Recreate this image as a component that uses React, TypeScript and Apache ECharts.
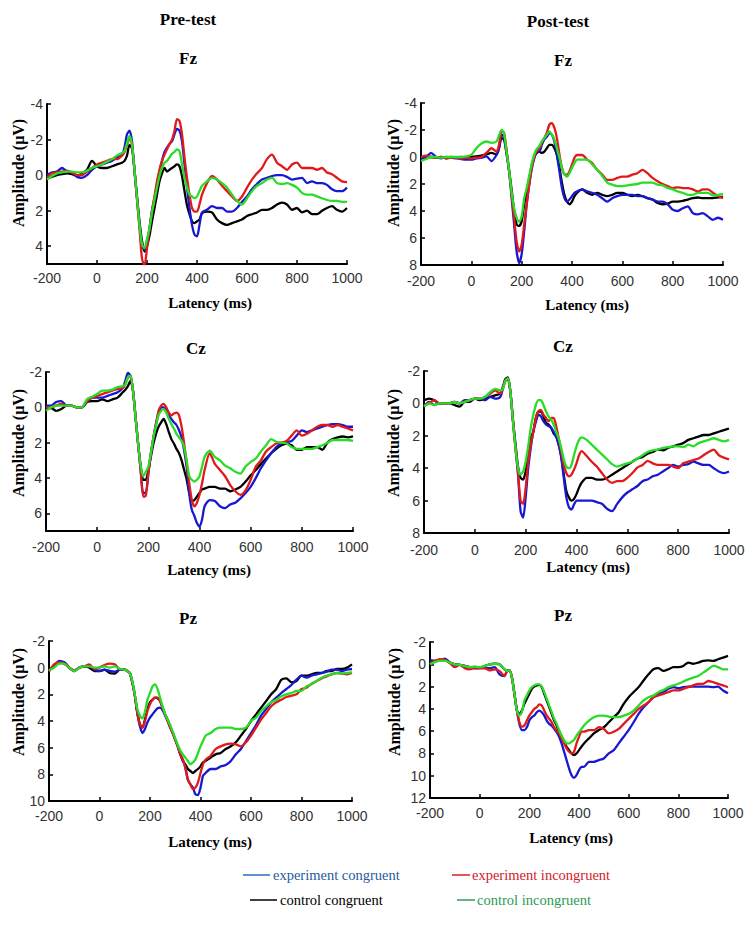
import React, { useEffect, useRef } from "react";
import * as echarts from "echarts";

// Latency (ms) sample points shared by all waveforms
const LATENCY = [
  -200, -180, -160, -140, -120, -100, -80, -60, -40, -20, 0, 20, 40, 60, 80, 100,
  110, 120, 130, 140, 150, 160, 170, 180, 190, 200, 210, 220, 230, 240, 250, 260, 270, 280, 290, 300,
  310, 320, 330, 340, 350, 360, 370, 380, 390, 400, 410, 420,
  440, 460, 480, 500, 520, 540, 560, 580, 600, 620, 640, 660, 680, 700, 720, 740, 760, 780, 800, 820,
  840, 860, 880, 900, 920, 940, 960, 980, 1000,
];

const X_TICKS = [-200, 0, 200, 400, 600, 800, 1000];
const FZ_PRE_TICKS = [-4, -2, 0, 2, 4];
const FZ_POST_TICKS = [-4, -2, 0, 2, 4, 6, 8];
const CZ_PRE_TICKS = [-2, 0, 2, 4, 6];
const CZ_POST_TICKS = [-2, 0, 2, 4, 6, 8];
const PZ_PRE_TICKS = [-2, 0, 2, 4, 6, 8, 10];
const PZ_POST_TICKS = [-2, 0, 2, 4, 6, 8, 10, 12];

const LEGEND_NAMES = ["experiment congruent", "experiment incongruent", "control congruent", "control incongruent"];

// ---------- Pre-test Fz ----------
const preFzEC = [0.0, -0.15, -0.2, -0.4, -0.2, -0.15, 0.1, 0.15, 0.0, -0.3, -0.5, -0.6, -0.7, -0.8, -1.0, -1.15,
  -1.55, -2.3, -2.5, -1.9, -0.2, 1.3, 2.8, 3.9, 4.2, 3.75, 3.0, 2.0, 1.3, 0.5, -0.2, -0.8, -1.3, -1.55, -1.75, -1.9,
  -2.3, -2.6, -2.5, -1.9, -0.6, 0.7, 1.85, 2.8, 3.35, 3.45, 2.8, 2.1,
  1.95, 1.75, 1.85, 1.85, 2.05, 2.05, 1.85, 1.5, 1.2, 0.8, 0.5, 0.25, 0.15, 0.05, 0.0, 0.0, 0.1, 0.25, 0.2, 0.15,
  0.45, 0.35, 0.45, 0.45, 0.55, 0.8, 0.9, 0.9, 0.7];
const preFzEI = [0.15, -0.1, -0.15, -0.2, -0.25, -0.15, 0.0, 0.0, -0.2, -0.4, -0.6, -0.7, -0.8, -0.9, -0.9, -1.1,
  -1.3, -1.7, -2.1, -1.7, -0.3, 1.4, 3.0, 4.7, 5.1, 4.1, 3.0, 2.0, 1.2, 0.35, -0.3, -0.8, -1.15, -1.45, -1.75, -2.0,
  -2.5, -3.15, -3.05, -2.3, -1.0, 0.15, 1.1, 1.85, 2.05, 2.05, 1.65, 1.1,
  0.45, 0.05, 0.25, 0.6, 0.9, 1.2, 1.45, 1.2, 0.7, 0.25, -0.1, -0.4, -0.9, -1.15, -0.7, -0.5, -0.3, -0.6, -0.7, -0.4,
  -0.4, -0.4, -0.3, -0.4, -0.15, -0.05, 0.15, 0.35, 0.4];
const preFzCC = [0.15, 0.1, 0.0, -0.05, -0.1, -0.05, 0.05, -0.1, -0.3, -0.8, -0.5, -0.4, -0.4, -0.5, -0.6, -0.7,
  -0.8, -1.1, -1.7, -1.5, -0.3, 1.2, 2.6, 3.7, 4.3, 4.0, 3.4, 2.6, 1.85, 1.1, 0.35, -0.1, -0.4, -0.2, -0.3, -0.4,
  -0.5, -0.6, -0.5, 0.05, 0.9, 1.7, 2.2, 2.6, 2.7, 2.6, 2.5, 2.15,
  2.05, 2.1, 2.5, 2.7, 2.8, 2.7, 2.6, 2.5, 2.3, 2.2, 2.1, 1.95, 1.95, 1.85, 1.65, 1.55, 1.65, 1.95, 1.85, 2.1,
  2.0, 2.2, 2.2, 2.0, 1.85, 1.75, 1.95, 2.05, 1.85];
const preFzCI = [0.25, 0.05, -0.1, -0.15, -0.2, -0.2, -0.15, -0.15, -0.25, -0.4, -0.5, -0.6, -0.75, -0.9, -1.1, -1.25,
  -1.35, -1.8, -2.2, -1.7, -0.3, 1.3, 2.8, 3.9, 4.1, 3.6, 3.0, 2.1, 1.4, 0.7, 0.05, -0.4, -0.7, -0.8, -1.0, -1.2,
  -1.3, -1.45, -1.35, -0.6, 0.15, 0.7, 1.1, 1.2, 1.3, 1.2, 0.9, 0.6,
  0.35, 0.15, 0.25, 0.45, 0.7, 1.1, 1.45, 1.65, 1.3, 0.9, 0.6, 0.45, 0.25, 0.15, 0.45, 0.5, 0.45, 0.55, 0.7, 1.0,
  1.1, 1.1, 1.2, 1.3, 1.4, 1.45, 1.45, 1.5, 1.5];

// ---------- Post-test Fz ----------
const postFzEC = [0.1, 0.0, -0.3, 0.0, 0.1, 0.0, 0.05, 0.1, 0.15, 0.2, 0.2, 0.1, 0.05, -0.05, 0.3, -0.15,
  -0.65, -1.65, -1.5, -0.4, 1.05, 3.0, 5.0, 7.0, 7.85, 7.2, 5.5, 3.5, 2.05, 0.9, 0.1, -0.4, -0.4, -0.9, -1.3, -1.5,
  -1.75, -1.65, -1.15, -0.15, 1.05, 2.3, 3.05, 3.3, 3.15, 2.9, 2.65, 2.55,
  2.4, 2.55, 2.65, 2.8, 3.05, 3.3, 3.05, 2.9, 2.8, 2.8, 2.8, 2.9, 2.9, 3.05, 3.15, 3.3, 3.3, 3.5, 3.9, 4.0,
  3.8, 3.65, 4.15, 4.25, 4.15, 4.4, 4.65, 4.5, 4.65];
const postFzEI = [0.0, -0.1, 0.0, 0.05, 0.0, 0.1, 0.05, 0.05, 0.1, 0.05, 0.1, 0.05, 0.0, -0.3, -0.65, -0.4,
  -0.9, -1.9, -1.8, -0.5, 1.0, 2.8, 4.5, 6.25, 7.0, 6.5, 5.0, 3.5, 2.05, 0.8, 0.0, -0.45, -0.65, -1.05, -1.4, -1.8,
  -2.4, -2.5, -2.15, -1.4, -0.2, 0.8, 1.3, 1.3, 1.05, 0.55, 0.05, -0.15,
  -0.15, 0.2, 0.45, 0.95, 1.3, 1.7, 1.7, 1.55, 1.45, 1.45, 1.3, 1.2, 0.95, 1.2, 1.55, 1.8, 2.0, 2.15, 2.3, 2.25,
  2.3, 2.3, 2.4, 2.55, 2.4, 2.4, 2.65, 2.9, 3.05];
const postFzCC = [0.1, 0.05, 0.0, 0.05, 0.0, 0.1, 0.0, 0.05, 0.0, 0.05, 0.0, -0.05, -0.1, -0.2, -0.3, -0.2,
  -0.65, -1.4, -1.3, -0.2, 1.0, 2.4, 3.95, 5.0, 5.1, 4.75, 3.5, 2.5, 1.6, 0.6, 0.0, -0.3, -0.4, -0.3, -0.4, -0.65,
  -0.9, -0.9, -0.65, -0.15, 0.8, 1.9, 2.8, 3.3, 3.5, 3.3, 2.9, 2.65,
  2.4, 2.65, 2.8, 2.65, 2.8, 2.9, 2.8, 2.65, 2.65, 2.8, 2.9, 2.8, 2.9, 3.05, 3.15, 3.4, 3.5, 3.45, 3.3, 3.3,
  3.25, 3.15, 3.05, 3.0, 3.05, 3.05, 3.05, 3.0, 2.95];
const postFzCI = [0.3, 0.15, 0.0, 0.0, 0.05, 0.0, 0.0, 0.0, 0.0, -0.05, -0.15, -0.65, -1.0, -1.15, -1.05, -1.15,
  -1.6, -2.0, -1.75, -0.4, 1.0, 2.6, 3.8, 4.5, 4.8, 4.4, 3.05, 2.3, 1.4, 0.5, -0.2, -0.6, -0.8, -1.15, -1.4, -1.65,
  -1.9, -1.65, -1.3, -0.65, 0.05, 0.8, 1.3, 1.45, 1.2, 0.8, 0.45, 0.2,
  0.2, 0.2, 0.55, 0.95, 1.4, 1.9, 2.05, 2.15, 2.15, 2.1, 2.05, 2.0, 1.9, 1.9, 1.9, 2.05, 2.1, 2.3, 2.4, 2.55,
  2.65, 2.8, 2.8, 2.65, 2.65, 2.65, 2.85, 2.8, 2.75];

// ---------- Pre-test Cz ----------
const preCzEC = [-0.1, -0.1, -0.3, -0.35, -0.1, -0.1, 0.0, 0.0, -0.3, -0.55, -0.55, -0.55, -0.65, -0.75, -0.85, -1.1,
  -1.5, -1.95, -1.8, -0.95, 0.55, 2.05, 3.55, 4.85, 4.85, 3.75, 2.6, 1.7, 0.9, 0.35, 0.0, 0.0, 0.2, 0.45, 0.65, 0.85,
  1.0, 1.3, 1.7, 2.45, 3.4, 4.9, 5.8, 6.15, 6.55, 6.75, 6.35, 5.6,
  5.25, 5.3, 5.6, 5.7, 5.5, 5.4, 5.15, 4.85, 4.5, 4.0, 3.45, 3.0, 2.6, 2.25, 2.05, 1.95, 1.9, 1.6, 1.3, 1.4,
  1.3, 1.2, 1.1, 1.0, 0.95, 0.95, 1.0, 1.1, 1.1];
const preCzEI = [0.0, 0.0, -0.1, -0.2, -0.1, -0.1, 0.0, 0.0, -0.35, -0.55, -0.65, -0.75, -0.85, -0.95, -1.05, -1.1,
  -1.3, -1.7, -1.8, -0.95, 0.55, 2.05, 3.55, 5.05, 5.0, 3.75, 2.6, 1.7, 0.95, 0.2, -0.1, -0.2, 0.0, 0.3, 0.45, 0.35,
  0.3, 0.45, 1.1, 2.05, 3.2, 4.3, 5.25, 5.6, 5.4, 4.95, 4.3, 3.55,
  2.6, 3.2, 3.55, 3.9, 4.4, 4.75, 4.95, 4.7, 4.1, 3.35, 3.0, 2.5, 2.25, 2.05, 2.0, 1.9, 1.6, 1.3, 1.6, 1.5,
  1.3, 1.1, 1.0, 1.0, 1.1, 1.0, 1.1, 1.2, 1.3];
const preCzCC = [0.1, 0.05, 0.2, 0.1, -0.1, -0.1, 0.0, 0.0, -0.3, -0.35, -0.35, -0.45, -0.35, -0.45, -0.55, -0.85,
  -1.0, -1.2, -1.5, -0.95, 0.55, 2.05, 3.3, 4.1, 4.1, 3.55, 2.8, 2.05, 1.5, 1.1, 0.85, 0.65, 0.95, 1.4, 1.8, 2.05,
  2.35, 2.6, 3.0, 3.55, 4.1, 4.85, 5.3, 5.25, 5.05, 4.85, 4.65, 4.6,
  4.5, 4.5, 4.6, 4.6, 4.75, 4.65, 4.5, 4.2, 3.85, 3.55, 3.2, 2.9, 2.6, 2.35, 2.15, 2.05, 2.15, 2.4, 2.4, 2.25,
  2.25, 2.25, 2.4, 2.0, 1.8, 1.7, 1.65, 1.7, 1.65];
const preCzCI = [0.2, 0.0, -0.1, -0.1, -0.1, -0.1, 0.0, 0.0, -0.45, -0.6, -0.75, -0.95, -0.95, -1.0, -1.15, -1.2,
  -1.3, -1.7, -1.8, -0.95, 0.55, 2.05, 3.3, 3.9, 3.65, 3.35, 2.6, 1.7, 1.05, 0.45, 0.2, 0.1, 0.3, 0.65, 0.95, 1.2,
  1.5, 1.7, 1.9, 2.25, 3.0, 3.9, 4.1, 4.2, 4.1, 3.9, 3.35, 2.8,
  2.45, 2.8, 3.0, 3.3, 3.45, 3.65, 3.75, 3.35, 3.1, 2.9, 2.5, 2.15, 1.8, 1.95, 2.0, 2.05, 2.25, 2.35, 2.35, 2.35,
  2.35, 2.25, 2.15, 2.0, 1.85, 1.85, 1.85, 1.85, 1.9];

// ---------- Post-test Cz ----------
const postCzEC = [0.2, -0.1, 0.1, 0.0, 0.0, 0.0, -0.1, 0.0, -0.2, -0.2, -0.3, -0.3, -0.2, -0.4, -0.3, -0.4,
  -0.9, -1.4, -1.5, -0.7, 1.1, 2.75, 4.4, 6.65, 7.05, 5.8, 4.0, 2.75, 1.75, 1.15, 0.7, 0.8, 1.1, 1.3, 1.4, 1.5,
  1.75, 2.05, 2.55, 3.35, 4.6, 5.8, 6.4, 6.55, 6.25, 6.0, 6.0, 6.0,
  6.0, 6.0, 6.1, 6.2, 6.5, 6.65, 6.2, 5.8, 5.5, 5.3, 5.1, 4.8, 4.7, 4.5, 4.4, 4.2, 4.0, 3.8, 3.9, 3.8,
  3.75, 3.6, 3.7, 3.8, 3.8, 4.0, 4.2, 4.3, 4.2];
const postCzEI = [0.1, 0.0, -0.2, 0.0, 0.0, 0.0, -0.1, 0.0, -0.1, -0.2, -0.3, -0.3, -0.4, -0.6, -0.8, -0.6,
  -0.9, -1.4, -1.55, -0.7, 1.1, 2.75, 4.3, 6.0, 6.2, 5.2, 3.6, 2.55, 1.75, 0.9, 0.5, 0.4, 0.7, 0.9, 1.1, 0.9,
  0.9, 1.4, 2.15, 2.95, 3.8, 4.3, 4.5, 4.4, 4.1, 3.7, 3.2, 2.95,
  3.25, 3.6, 3.9, 4.3, 4.7, 4.9, 4.8, 4.8, 4.6, 4.3, 3.95, 3.8, 3.55, 3.7, 3.8, 3.8, 3.8, 3.9, 4.0, 3.7,
  3.6, 3.5, 3.4, 3.2, 3.0, 2.85, 3.2, 3.35, 3.45];
const postCzCC = [-0.2, -0.3, -0.2, 0.0, 0.0, 0.0, 0.1, 0.2, -0.1, -0.1, -0.3, -0.2, -0.3, -0.4, -0.5, -0.6,
  -1.0, -1.5, -1.6, -0.7, 1.0, 2.5, 3.9, 4.6, 4.7, 4.2, 3.2, 2.15, 1.75, 0.9, 0.5, 0.5, 0.8, 1.2, 1.3, 1.5,
  1.85, 2.05, 2.55, 3.25, 4.4, 5.4, 5.8, 6.0, 5.9, 5.6, 5.2, 4.9,
  4.6, 4.6, 4.7, 4.7, 4.6, 4.4, 4.2, 4.0, 3.8, 3.6, 3.4, 3.3, 3.1, 3.0, 2.85, 2.9, 2.75, 2.65, 2.55, 2.45,
  2.25, 2.15, 2.05, 1.95, 1.95, 1.85, 1.75, 1.65, 1.55];
const postCzCI = [0.2, 0.0, 0.1, 0.0, 0.0, 0.0, -0.1, 0.0, -0.1, -0.2, -0.3, -0.3, -0.4, -0.7, -0.9, -0.8,
  -0.9, -1.4, -1.55, -0.7, 1.1, 2.75, 4.0, 4.4, 4.2, 3.6, 2.65, 1.5, 0.7, 0.1, -0.2, -0.2, 0.1, 0.5, 0.8, 1.0,
  1.3, 1.75, 2.15, 2.75, 3.45, 3.9, 4.0, 3.8, 3.2, 2.65, 2.25, 2.1,
  2.25, 2.55, 2.85, 3.15, 3.45, 3.75, 3.9, 3.8, 3.7, 3.6, 3.4, 3.2, 3.0, 2.9, 2.85, 2.75, 2.7, 2.65, 2.65, 2.7,
  2.55, 2.65, 2.45, 2.35, 2.25, 2.15, 2.25, 2.35, 2.25];

// ---------- Pre-test Pz ----------
const prePzEC = [0.2, -0.1, -0.5, -0.4, 0.0, 0.25, 0.0, -0.1, -0.1, 0.15, 0.25, 0.15, 0.25, 0.3, 0.15, 0.15,
  0.25, 0.4, 1.1, 2.1, 3.4, 4.4, 4.9, 4.6, 4.1, 3.75, 3.5, 3.25, 3.05, 3.0, 3.2, 3.6, 4.0, 4.5, 4.9, 5.4,
  5.9, 6.5, 6.9, 7.5, 8.4, 8.75, 9.0, 9.5, 9.55, 9.0, 8.1, 7.9,
  7.6, 7.6, 7.4, 7.3, 7.0, 6.5, 6.1, 5.5, 4.9, 4.3, 3.6, 3.1, 2.6, 2.25, 1.9, 1.6, 1.3, 0.9, 0.6, 0.75,
  0.6, 0.5, 0.4, 0.3, 0.15, 0.15, 0.25, 0.15, 0.1];
const prePzEI = [0.3, -0.25, -0.4, -0.3, 0.0, 0.2, 0.0, -0.1, -0.25, 0.1, 0.0, -0.2, -0.3, -0.25, 0.1, 0.15,
  0.25, 0.4, 1.1, 2.1, 3.4, 4.25, 4.5, 4.0, 3.25, 2.75, 2.4, 2.25, 2.25, 2.5, 3.0, 3.5, 4.0, 4.5, 4.9, 5.4,
  5.9, 6.5, 6.9, 7.5, 8.4, 8.75, 9.1, 9.0, 8.6, 7.9, 7.25, 6.9,
  6.6, 6.1, 5.9, 5.75, 5.7, 5.75, 5.9, 5.6, 5.1, 4.5, 3.9, 3.4, 2.9, 2.6, 2.4, 2.2, 2.1, 2.0, 1.6, 1.5,
  1.2, 1.0, 0.8, 0.65, 0.5, 0.4, 0.45, 0.5, 0.4];
const prePzCC = [0.2, -0.1, -0.4, -0.4, 0.0, 0.25, 0.0, -0.1, 0.0, 0.25, 0.25, 0.15, 0.4, 0.45, 0.15, 0.15,
  0.25, 0.4, 1.1, 2.1, 3.4, 4.25, 4.5, 3.9, 3.1, 2.6, 2.4, 2.25, 2.3, 2.5, 3.0, 3.5, 3.9, 4.4, 4.9, 5.4,
  5.9, 6.5, 7.0, 7.25, 7.6, 7.75, 7.9, 7.75, 7.6, 7.4, 7.1, 7.0,
  6.75, 6.5, 6.4, 6.1, 5.9, 5.6, 5.1, 4.6, 4.0, 3.5, 3.0, 2.5, 2.0, 1.6, 0.9, 0.8, 1.1, 1.0, 0.6, 0.6,
  0.5, 0.4, 0.4, 0.25, 0.25, 0.1, 0.1, 0.0, -0.25];
const prePzCI = [0.2, 0.0, -0.3, -0.3, 0.0, 0.25, 0.0, -0.1, -0.1, 0.0, 0.0, -0.1, 0.0, -0.1, 0.1, 0.15,
  0.25, 0.4, 1.0, 2.0, 3.1, 3.6, 3.8, 3.3, 2.4, 1.9, 1.4, 1.25, 1.6, 2.25, 2.9, 3.5, 3.9, 4.3, 4.8, 5.3,
  5.8, 6.2, 6.5, 6.75, 7.0, 7.25, 7.1, 6.9, 6.4, 5.9, 5.5, 5.1,
  4.9, 4.6, 4.5, 4.5, 4.5, 4.6, 4.6, 4.5, 4.0, 3.75, 3.25, 2.9, 2.6, 2.4, 2.15, 2.0, 1.9, 1.75, 1.75, 1.4,
  1.25, 1.0, 0.75, 0.6, 0.5, 0.4, 0.45, 0.4, 0.35];

// ---------- Post-test Pz ----------
const postPzEC = [-0.35, -0.3, -0.3, -0.5, -0.15, 0.0, 0.05, 0.15, 0.25, 0.35, 0.35, 0.35, 0.35, 0.25, 0.9, 1.05,
  0.6, 0.55, 1.2, 2.65, 4.15, 5.35, 5.9, 5.9, 5.65, 5.05, 4.75, 4.6, 4.3, 4.15, 4.3, 4.6, 5.05, 5.35, 5.5, 5.8,
  6.1, 6.5, 7.1, 7.85, 8.6, 9.35, 9.95, 10.2, 9.95, 9.5, 9.2, 9.2,
  8.75, 8.75, 8.6, 8.45, 8.0, 7.7, 7.1, 6.5, 5.9, 5.2, 4.45, 3.85, 3.4, 2.95, 2.65, 2.5, 2.2, 2.05, 2.15, 2.05,
  2.0, 2.0, 2.0, 2.0, 2.0, 2.05, 2.0, 2.35, 2.6];
const postPzEI = [-0.05, -0.3, -0.45, -0.4, -0.1, 0.25, 0.05, 0.35, 0.45, 0.35, 0.35, 0.35, 0.55, 0.45, 0.6, 1.05,
  0.6, 0.55, 1.2, 2.65, 4.15, 5.2, 5.6, 5.5, 5.05, 4.6, 4.3, 4.0, 3.85, 3.6, 3.7, 4.15, 4.6, 4.9, 5.2, 5.65,
  5.95, 6.2, 6.65, 7.1, 7.55, 7.85, 8.0, 7.85, 7.1, 6.5, 6.05, 6.05,
  5.9, 5.9, 5.65, 5.8, 6.2, 6.05, 5.8, 5.35, 4.9, 4.45, 4.0, 3.7, 3.4, 2.95, 2.8, 2.65, 2.5, 2.35, 2.35, 2.2,
  2.05, 1.9, 1.75, 1.75, 1.5, 1.6, 1.75, 1.9, 2.05];
const postPzCC = [-0.35, -0.3, -0.3, -0.45, -0.15, 0.0, 0.05, 0.15, 0.25, 0.35, 0.35, 0.15, 0.0, -0.05, 0.0, 0.45,
  0.6, 0.55, 1.2, 2.65, 4.15, 4.45, 4.15, 3.55, 3.1, 2.65, 2.2, 2.0, 1.9, 1.85, 2.05, 2.65, 3.25, 3.85, 4.45, 5.05,
  5.5, 6.1, 6.5, 6.95, 7.4, 7.7, 8.0, 8.15, 8.0, 7.7, 7.4, 7.1,
  6.65, 6.2, 5.9, 5.65, 5.2, 4.75, 4.3, 3.55, 2.95, 2.5, 2.05, 1.45, 0.9, 0.45, 0.35, 0.6, 0.45, 0.25, 0.25, 0.15,
  -0.15, -0.05, -0.15, -0.3, -0.35, -0.3, -0.45, -0.6, -0.75];
const postPzCI = [0.0, -0.2, -0.3, -0.3, -0.15, 0.0, 0.05, 0.15, 0.25, 0.2, 0.25, 0.15, 0.0, -0.05, 0.0, 0.45,
  0.6, 0.55, 1.2, 2.65, 4.15, 4.6, 4.3, 3.25, 2.8, 2.35, 2.05, 1.9, 1.8, 1.8, 2.0, 2.5, 3.1, 3.7, 4.3, 4.9,
  5.35, 5.9, 6.4, 6.8, 7.1, 7.1, 6.95, 6.8, 6.4, 6.1, 5.8, 5.5,
  5.05, 4.75, 4.6, 4.6, 4.7, 4.75, 4.75, 4.6, 4.45, 4.15, 3.7, 3.25, 2.95, 2.8, 2.5, 2.3, 2.05, 1.9, 1.75, 1.55,
  1.35, 1.2, 1.05, 0.75, 0.45, 0.15, 0.25, 0.45, 0.45];

const LINE_COLORS = { ec: "#1818d0", ei: "#e01a1a", cc: "#000000", ci: "#28dc28" };

const PANELS = [
  { title: "Fz", tx: 188, ty: 58, left: 47, top: 104, width: 300, height: 160, yMin: -4, yMax: 5, yTicks: FZ_PRE_TICKS, xm: 7, lat: [210, 303], amp: [18, 173], data: [preFzEC, preFzEI, preFzCC, preFzCI] },
  { title: "Fz", tx: 563, ty: 60, left: 421, top: 103, width: 302, height: 162, yMin: -4, yMax: 8, yTicks: FZ_POST_TICKS, xm: 9, lat: [587, 305], amp: [393, 173], data: [postFzEC, postFzEI, postFzCC, postFzCI] },
  { title: "Cz", tx: 196, ty: 348, left: 46, top: 372, width: 307, height: 159, yMin: -2, yMax: 7, yTicks: CZ_PRE_TICKS, xm: 9, lat: [209, 570], amp: [18, 443], data: [preCzEC, preCzEI, preCzCC, preCzCI] },
  { title: "Cz", tx: 563, ty: 346, left: 424, top: 371, width: 305, height: 162, yMin: -2, yMax: 8, yTicks: CZ_POST_TICKS, xm: 10, lat: [588, 567], amp: [393, 443], data: [postCzEC, postCzEI, postCzCC, postCzCI] },
  { title: "Pz", tx: 188, ty: 618, left: 49, top: 641, width: 303, height: 160, yMin: -2, yMax: 10, yTicks: PZ_PRE_TICKS, xm: 8, lat: [210, 842], amp: [18, 702], data: [prePzEC, prePzEI, prePzCC, prePzCI] },
  { title: "Pz", tx: 563, ty: 615, left: 430, top: 642, width: 298, height: 156, yMin: -2, yMax: 12, yTicks: PZ_POST_TICKS, xm: 8, lat: [571, 838], amp: [394, 702], data: [postPzEC, postPzEI, postPzCC, postPzCI] },
];

const SERIF = "'Liberation Serif', 'Times New Roman', serif";
const SANS = "'Liberation Sans', Arial, sans-serif";

export default function App() {
  const ref = useRef<HTMLDivElement>(null);

  useEffect(() => {
    document.body.style.margin = "0";
    if (!ref.current) return;
    const chart = echarts.init(ref.current, null, { renderer: "svg" });

    const grid: any[] = [];
    const xAxis: any[] = [];
    const yAxis: any[] = [];
    const series: any[] = [];
    const graphic: any[] = [];

    const txt = (text: string, x: number, y: number, size: number, bold: boolean, fill = "#000", rotation = 0, align = "center") => ({
      type: "text",
      x,
      y,
      rotation,
      style: {
        text,
        fontFamily: SERIF,
        fontSize: size,
        fontWeight: bold ? "bold" : "normal",
        fill,
        align,
        verticalAlign: "middle",
      },
    });

    const plain = (v: number) => String(v);

    PANELS.forEach((p, i) => {
      grid.push({ left: p.left, top: p.top, width: p.width, height: p.height, containLabel: false });
      xAxis.push({
        type: "value",
        gridIndex: i,
        min: -200,
        max: 1000,
        interval: 200,
        axisLine: { show: true, onZero: false, lineStyle: { color: "#000", width: 2 } },
        axisTick: { show: true, inside: true, length: 4, customValues: X_TICKS, lineStyle: { color: "#000", width: 1.5 } },
        axisLabel: { show: true, customValues: X_TICKS, formatter: plain, margin: p.xm, color: "#333", fontSize: 14, fontFamily: SANS },
        splitLine: { show: false },
      });
      yAxis.push({
        type: "value",
        gridIndex: i,
        inverse: true,
        min: p.yMin,
        max: p.yMax,
        interval: 2,
        axisLine: { show: true, onZero: false, lineStyle: { color: "#000", width: 2 } },
        axisTick: { show: true, inside: true, length: 4, customValues: p.yTicks, lineStyle: { color: "#000", width: 1.5 } },
        axisLabel: { show: true, customValues: p.yTicks, formatter: plain, margin: 4, color: "#333", fontSize: 14, fontFamily: SANS },
        splitLine: { show: false },
      });
      const order: [number[], string, string][] = [
        [p.data[2], LINE_COLORS.cc, LEGEND_NAMES[2]],
        [p.data[0], LINE_COLORS.ec, LEGEND_NAMES[0]],
        [p.data[1], LINE_COLORS.ei, LEGEND_NAMES[1]],
        [p.data[3], LINE_COLORS.ci, LEGEND_NAMES[3]],
      ];
      order.forEach(([vals, color, name]) => {
        series.push({
          type: "line",
          name,
          xAxisIndex: i,
          yAxisIndex: i,
          data: LATENCY.map((t, k) => [t, vals[k]]),
          showSymbol: false,
          smooth: 0.25,
          clip: true,
          lineStyle: { color, width: 2.3 },
          itemStyle: { color },
          z: 2,
        });
      });
      graphic.push(txt(p.title, p.tx, p.ty, 17, true));
      graphic.push(txt("Latency (ms)", p.lat[0], p.lat[1], 15, true));
      graphic.push(txt("Amplitude (\u03bcV)", p.amp[0], p.amp[1], 16, true, "#000", Math.PI / 2));
    });

    graphic.push(txt("Pre-test", 188, 19, 17, true));
    graphic.push(txt("Post-test", 558, 21, 17, true));

    // legend
    const legendItems = [
      { name: LEGEND_NAMES[0], x1: 243, x2: 270, tx: 273, y: 875, line: "#2a6fc4", fill: "#1f5c9e" },
      { name: LEGEND_NAMES[1], x1: 452, x2: 470, tx: 472, y: 875, line: "#d81f26", fill: "#d11a2a" },
      { name: LEGEND_NAMES[2], x1: 250, x2: 277, tx: 280, y: 900, line: "#000000", fill: "#000000" },
      { name: LEGEND_NAMES[3], x1: 457, x2: 475, tx: 477, y: 900, line: "#2a9d5c", fill: "#2a9a55" },
    ];
    legendItems.forEach((l) => {
      graphic.push({ type: "line", shape: { x1: l.x1, y1: l.y, x2: l.x2, y2: l.y }, style: { stroke: l.line, lineWidth: 1.5 } });
      graphic.push(txt(l.name, l.tx, l.y, 14.5, false, l.fill, 0, "left"));
    });

    chart.setOption({
      animation: false,
      backgroundColor: "#ffffff",
      grid,
      xAxis,
      yAxis,
      series,
      graphic,
    });

    return () => {
      chart.dispose();
    };
  }, []);

  return <div ref={ref} style={{ width: 750, height: 926 }} />;
}
